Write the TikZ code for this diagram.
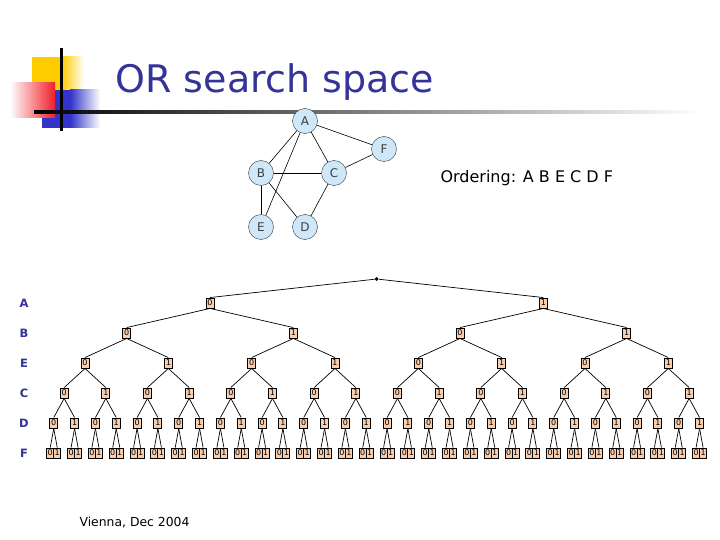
\documentclass[tikz,border=0pt]{standalone}
\usepackage{fontspec}
\setmainfont{DejaVu Sans}
\usetikzlibrary{positioning}
\definecolor{navy}{RGB}{51,51,153}
\definecolor{peach}{RGB}{250,206,172}
\definecolor{skyfill}{RGB}{206,232,250}
\definecolor{logoyellow}{RGB}{255,204,0}
\definecolor{logored}{RGB}{240,30,40}
\definecolor{logoblue}{RGB}{51,51,204}
\newcommand\Dstep{20.833}
\newcommand\Dzero{53.75}
\tikzset{
  gnode/.style={
    circle,
    draw=black!80,
    fill=skyfill,
    minimum size=25pt,
    inner sep=0pt,
    text=black!75,
    font=\fontsize{12}{12}\selectfont
  },
  gedge/.style={
    black,
    line width=0.6pt
  },
  valbox/.style={
    rectangle,
    draw=black,
    line width=0.9pt,
    fill=peach,
    minimum width=8pt,
    minimum height=10pt,
    inner sep=0pt,
    font=\fontsize{8}{8}\selectfont
  },
  leafbox/.style={
    valbox,
    minimum width=7pt
  },
  arc/.style={
    black,
    line width=0.7pt
  },
  lvlname/.style={
    text=navy,
    font=\bfseries\fontsize{11.5}{11.5}\selectfont
  }
}

\begin{document}
\begin{tikzpicture}[x=1pt,y=-1pt]
        \useasboundingbox (0,0) rectangle (720,540);

        % logo
        \fill[logoyellow] (32,57) rectangle (62,90);
        \shade[left color=logoyellow, right color=white] (62,57) rectangle (84,90);
        \fill[logoblue] (42,90) rectangle (70,128);
        \shade[left color=logoblue, right color=white] (70,90) rectangle (100,128);
        \shade[left color=white, right color=logored] (10,83) rectangle (55,118);
        \shade[left color=black, right color=white] (34,110.7) rectangle (700,113.3);
        \draw[line width=3pt] (61,48) -- (61,131);

        \node[text=navy, font=\fontsize{38}{38}\selectfont, anchor=base west] (title) at (112,93) {OR search space};

        % constraint graph
        \node[gnode] (gA) at (305,121) {A};
        \node[gnode] (gF) at (384,149) {F};
        \node[gnode] (gB) at (261,173) {B};
        \node[gnode] (gC) at (334,173) {C};
        \node[gnode] (gE) at (261,227) {E};
        \node[gnode] (gD) at (305,227) {D};
        \draw[gedge] (gA) -- (gB);
        \draw[gedge] (gA) -- (gE);
        \draw[gedge] (gA) -- (gC);
        \draw[gedge] (gA) -- (gF);
        \draw[gedge] (gF) -- (gC);
        \draw[gedge] (gB) -- (gC);
        \draw[gedge] (gB) -- (gE);
        \draw[gedge] (gB) -- (gD);
        \draw[gedge] (gC) -- (gD);

        \node[font=\fontsize{16}{16}\selectfont, anchor=west] (order) at (437,178) {Ordering: A B E C D F};

        % level names
        \foreach \name [count=\k] in {A,B,E,C,D,F}
          \node[lvlname] (lab-\name) at (24,273+30*\k) {\name};

        % search tree
        \node[circle, fill, inner sep=1.4pt] (root) at (376.7,279) {};
        \foreach \k in {1,...,5} {
          \pgfmathtruncatemacro\n{2^\k}
          \pgfmathtruncatemacro\last{\n-1}
          \foreach \j in {0,...,\last} {
            \pgfmathsetmacro\x{\Dzero+\Dstep*(\j*32/\n+(32/\n-1)/2)}
            \pgfmathtruncatemacro\v{mod(\j,2)}
            \node[valbox] (t\k-\j) at (\x,273+30*\k) {\v};
          }
        }
        \foreach \j in {0,...,63} {
          \pgfmathsetmacro\x{\Dzero+\Dstep*floor(\j/2)+(mod(\j,2)-0.5)*7}
          \pgfmathtruncatemacro\v{mod(\j,2)}
          \node[leafbox] (t6-\j) at (\x,453) {\v};
        }

        \foreach \j in {0,1}
          \draw[arc] (root) -- (t1-\j.north);
        \foreach \k in {2,...,6} {
          \pgfmathtruncatemacro\n{2^\k}
          \pgfmathtruncatemacro\last{\n-1}
          \pgfmathtruncatemacro\p{\k-1}
          \foreach \j in {0,...,\last} {
            \pgfmathtruncatemacro\q{floor(\j/2)}
            \draw[arc] (t\p-\q.south) -- (t\k-\j.north);
          }
        }

        \node[font=\fontsize{12.4}{12.4}\selectfont, anchor=west] (foot) at (76,523) {Vienna, Dec 2004};
\end{tikzpicture}
\end{document}
